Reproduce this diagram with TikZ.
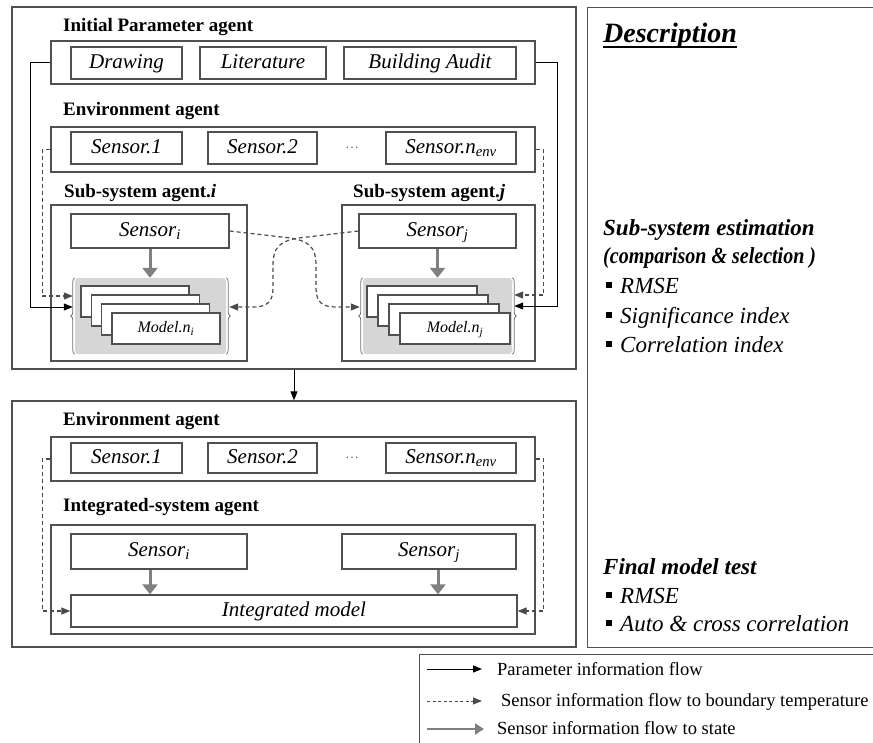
\documentclass[tikz,border=0pt]{standalone}
\usepackage{fontspec}
\setmainfont{Liberation Serif}
\usetikzlibrary{arrows.meta,decorations.pathreplacing,calc}

\definecolor{frameC}{HTML}{505050}
\definecolor{dashC}{HTML}{4A4A4A}
\definecolor{stateC}{HTML}{808080}
\definecolor{shadeC}{HTML}{D6D6D6}
\definecolor{braceC}{HTML}{707070}

\tikzset{
  frame/.style={draw=frameC, line width=1.3pt, inner sep=0pt},
  box/.style={draw=frameC, line width=1.3pt, inner sep=0pt, fill=white,
    font=\fontsize{21}{24}\selectfont\itshape, text height=14pt, text depth=4pt},
  smallbox/.style={box, font=\fontsize{16}{18}\selectfont\itshape, text height=11pt, text depth=3pt},
  head/.style={anchor=base west, inner sep=0pt, font=\fontsize{19}{22}\selectfont\bfseries},
  shade/.style={fill=shadeC, rounded corners=3pt, inner sep=0pt},
  bracestyle/.style={draw=braceC, line width=0.8pt, decorate, decoration={brace, amplitude=4pt}},
  param/.style={draw=black, line width=1pt, -{Triangle[length=9pt,width=7pt]}},
  bound/.style={draw=dashC, line width=1.2pt, dash pattern=on 4pt off 3pt, -{Triangle[length=9pt,width=7pt]}},
  state/.style={draw=stateC, line width=3pt, -{Triangle[length=10pt,width=15pt]}},
  dots/.style={anchor=base, inner sep=0pt, text=black!60, font=\fontsize{14}{14}\selectfont},
  desctitle/.style={anchor=base west, inner sep=0pt, font=\fontsize{28}{32}\selectfont\bfseries\itshape},
  descsub/.style={anchor=base west, inner sep=0pt, font=\fontsize{23}{26}\selectfont\bfseries\itshape},
  descitem/.style={anchor=base west, inner sep=0pt, font=\fontsize{23}{26}\selectfont\itshape},
  legtxt/.style={anchor=base west, inner sep=0pt, font=\fontsize{18.5}{21}\selectfont},
}

\begin{document}
\begin{tikzpicture}[x=1pt,y=-1pt]
\useasboundingbox (0,0) rectangle (873,742);

% ---------- outer frames ----------
\node[frame, minimum width=564pt, minimum height=362pt] (upper) at (294,188) {};
\node[frame, minimum width=564pt, minimum height=246pt] (lower) at (294,524) {};
\node[frame, anchor=north west, minimum width=320pt, minimum height=640pt] (descBox) at (587,7) {};
\node[frame, anchor=north west, minimum width=480pt, minimum height=120pt] (legend) at (419,654) {};

% ---------- upper stage ----------
\node[head] (ipHead) at (63,31) {Initial Parameter agent};
\node[frame, minimum width=484pt, minimum height=43pt] (ipBox) at (293,62.5) {};
\node[box, minimum width=111pt, minimum height=32pt] (drawing) at (126.5,63) {Drawing};
\node[box, minimum width=126pt, minimum height=32pt] (literature) at (263,63) {Literature};
\node[box, minimum width=172pt, minimum height=32pt] (audit) at (430,63) {Building Audit};

\node[head] (envHead) at (63,115) {Environment agent};
\node[frame, minimum width=484pt, minimum height=45pt] (envBox) at (293,149.5) {};
\node[box, minimum width=111pt, minimum height=32pt] (sA1) at (126.5,148) {Sensor.1};
\node[box, minimum width=109pt, minimum height=32pt] (sA2) at (262.5,148) {Sensor.2};
\node[dots] (dotsA) at (352,148) {\textellipsis};
\node[box, minimum width=130pt, minimum height=32pt] (sAn) at (451,148) {Sensor.n\textsubscript{env}};

\node[head] (subIHead) at (64,197) {Sub-system agent.\textit{i}};
\node[head] (subJHead) at (353,197) {Sub-system agent.\textit{j}};
\node[frame, minimum width=196pt, minimum height=156pt] (subI) at (149,283) {};
\node[frame, minimum width=193pt, minimum height=156pt] (subJ) at (438.5,283) {};

\node[box, minimum width=158pt, minimum height=34pt] (sensI) at (150,231) {Sensor\textsubscript{i}};
\node[box, minimum width=157pt, minimum height=34pt] (sensJ) at (437.5,231) {Sensor\textsubscript{j}};

% model sets
\node[shade, minimum width=151pt, minimum height=76pt] (grayI) at (150.5,316) {};
\node[shade, minimum width=149pt, minimum height=76pt] (grayJ) at (437.5,316) {};
\draw[bracestyle] (grayI.south west) -- (grayI.north west);
\draw[bracestyle] (grayI.north east) -- (grayI.south east);
\draw[bracestyle] (grayJ.south west) -- (grayJ.north west);
\draw[bracestyle] (grayJ.north east) -- (grayJ.south east);
\foreach \k in {0,1,2} {
  \node[smallbox, minimum width=108pt, minimum height=31pt] (mI\k) at (135+10.3*\k,301.5+9*\k) {};
  \node[smallbox, minimum width=110pt, minimum height=31pt] (mJ\k) at (422+11*\k,301.5+9*\k) {};
}
\node[smallbox, minimum width=108pt, minimum height=31pt] (mI3) at (165.9,328.5) {Model.n\textsubscript{i}};
\node[smallbox, minimum width=110pt, minimum height=31pt] (mJ3) at (455,328.5) {Model.n\textsubscript{j}};

% sensor to state
\draw[state] (sensI.south) -- (sensI.south |- grayI.north);
\draw[state] (sensJ.south) -- (sensJ.south |- grayJ.north);

% parameter flows
\draw[param] (ipBox.west) -- ++(-20,0) |- ([xshift=-2pt,yshift=9pt]grayI.west);
\draw[param] (ipBox.east) -- ++(22,0) |- ([xshift=2pt,yshift=10pt]grayJ.east);

% boundary flows
\draw[bound] (envBox.west) -- ++(-8,0) |- ([xshift=-2pt,yshift=20pt]grayI.west);
\draw[bound] (envBox.east) -- ++(8,0) |- ([xshift=2pt,yshift=21pt]grayJ.east);

% exchange between sub-systems
\draw[bound] (sensI.east) -- (286,237.5)
  .. controls (310,240) and (316,248) .. (316,265) -- (316,288)
  .. controls (316,302) and (322,307) .. (336,307)
  -- ([xshift=-3pt,yshift=9pt]grayJ.west);
\draw[bound] (sensJ.west) -- (303,237.5)
  .. controls (279,240) and (273,248) .. (273,265) -- (273,288)
  .. controls (273,302) and (267,307) .. (253,307)
  -- ([xshift=3pt,yshift=9pt]grayI.east);

% stage transition
\draw[param] (upper.south) -- (lower.north);

% ---------- lower stage ----------
\node[head] (env2Head) at (63,425) {Environment agent};
\node[frame, minimum width=484pt, minimum height=44pt] (envBox2) at (293,459) {};
\node[box, minimum width=111pt, minimum height=30pt] (sB1) at (126.5,458) {Sensor.1};
\node[box, minimum width=109pt, minimum height=30pt] (sB2) at (262.5,458) {Sensor.2};
\node[dots] (dotsB) at (352,458) {\textellipsis};
\node[box, minimum width=130pt, minimum height=30pt] (sBn) at (451,458) {Sensor.n\textsubscript{env}};

\node[head] (intHead) at (63,511) {Integrated-system agent};
\node[frame, minimum width=484pt, minimum height=109pt] (intBox) at (293,579.5) {};
\node[box, minimum width=176pt, minimum height=35pt] (sensIb) at (159,551.5) {Sensor\textsubscript{i}};
\node[box, minimum width=174pt, minimum height=35pt] (sensJb) at (429,551.5) {Sensor\textsubscript{j}};
\node[box, minimum width=446pt, minimum height=32pt] (intModel) at (294,611) {Integrated model};

\draw[state] ([xshift=-9pt]sensIb.south) -- ([xshift=-9pt]sensIb.south |- intModel.north);
\draw[state] ([xshift=9pt]sensJb.south) -- ([xshift=9pt]sensJb.south |- intModel.north);
\draw[bound] (envBox2.west) -- ++(-8,0) |- (intModel.west);
\draw[bound] (envBox2.east) -- ++(8,0) |- (intModel.east);

% ---------- description ----------
\node[desctitle] (descTitle) at (603,42) {Description};
\draw[line width=2pt] ([yshift=-5pt]descTitle.base west) -- ([yshift=-5pt]descTitle.base east);

\node[descsub] (estA) at (603,235) {Sub-system estimation};
\node[descsub] (estB) at (603,263) {\scalebox{0.87}[1]{(comparison \& selection )}};
\node[descitem] (estC) at (620,293) {RMSE};
\node[descitem] (estD) at (620,323) {Significance index};
\node[descitem] (estE) at (620,352) {Correlation index};
\node[descsub] (finA) at (603,574) {Final model test};
\node[descitem] (finB) at (620,603) {RMSE};
\node[descitem] (finC) at (620,631) {Auto \& cross correlation};
\foreach \b in {293,323,352,603,631} {
  \fill (606,\b-11) rectangle ++(6,6);
}

% ---------- legend ----------
\coordinate (la1s) at (427,669); \coordinate (la1e) at (482,669);
\coordinate (la2s) at (427,701); \coordinate (la2e) at (482,701);
\coordinate (la3s) at (427,729); \coordinate (la3e) at (484,729);
\draw[param] (la1s) -- (la1e);
\draw[bound, line width=1pt, dash pattern=on 3pt off 2.5pt] (la2s) -- (la2e);
\draw[state, line width=2.5pt, -{Triangle[length=9pt,width=11pt]}] (la3s) -- (la3e);
\node[legtxt] (lt1) at (497,675) {Parameter information flow};
\node[legtxt] (lt2) at (501,706) {Sensor information flow to boundary temperature};
\node[legtxt] (lt3) at (497,734) {Sensor information flow to state};
\end{tikzpicture}
\end{document}
